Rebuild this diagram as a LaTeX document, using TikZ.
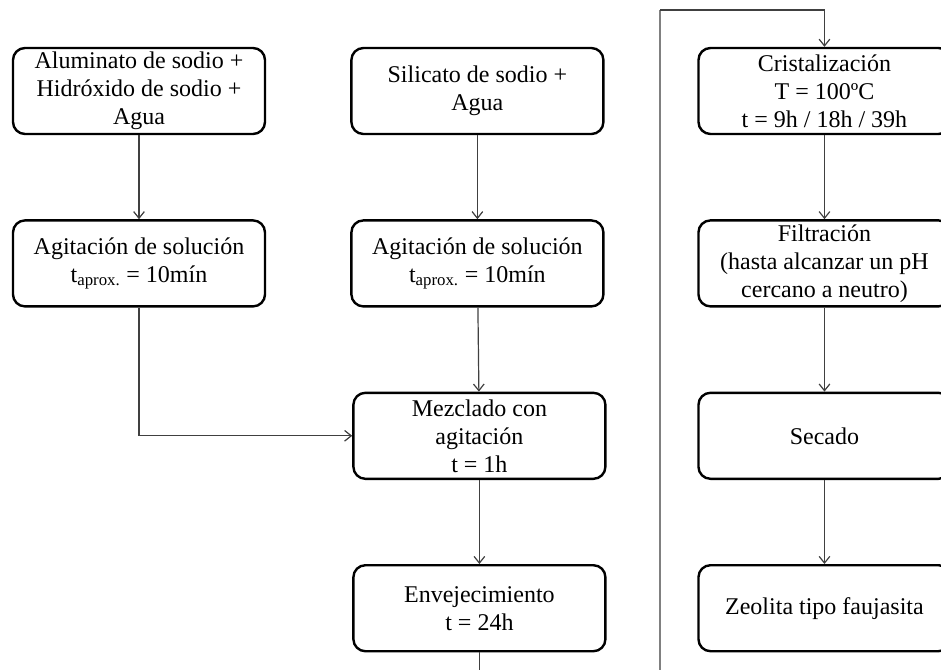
\documentclass[tikz,border=0pt]{standalone}
\usepackage{fontspec}
\setmainfont{Liberation Serif}
\usetikzlibrary{arrows.meta, positioning, calc}

\begin{document}
\begin{tikzpicture}[node distance=63pt, font=\fontsize{18}{21}\selectfont]
    \tikzstyle{stage} = [rectangle, rounded corners=9pt, minimum width=189pt, minimum height=64.5pt, inner sep=2pt, text centered, align=center, draw=black, line width=1.8pt]
    \tikzstyle{link} = [line width=0.9pt, draw=black!75]
    \tikzstyle{arrow} = [link, -{Straight Barb[length=5pt, width=8pt]}]
    \useasboundingbox (-104.25pt,68.25pt) rectangle (601.5pt,-433.5pt);
    \node (alum) [stage] {Aluminato de sodio +\\Hidróxido de sodio +\\Agua};
    \node (agitA) [stage, below=of alum] {Agitación de solución\\t\textsubscript{aprox.} = 10mín};
    \node (silic) [stage, right=of alum] {Silicato de sodio +\\Agua};
    \node (agitB) [stage, below=of silic] {Agitación de solución\\t\textsubscript{aprox.} = 10mín};
    \node (mezcla) [stage, below=of agitB, xshift=1.5pt] {Mezclado con\\agitación\\t = 1h};
    \node (envej) [stage, below=of mezcla] {Envejecimiento\\t = 24h};
    \node (crist) [stage, right=69.5pt of silic] {Cristalización\\T = 100ºC\\t = 9h / 18h / 39h};
    \node (filtr) [stage, below=of crist] {Filtración\\(hasta alcanzar un pH\\cercano a neutro)};
    \node (secado) [stage, below=of filtr] {Secado};
    \node (zeol) [stage, below=of secado] {Zeolita tipo faujasita};
    \coordinate (loopdown) at (390.75pt,-450pt);
    \coordinate (looptop) at (390.75pt,60.75pt);
    \draw [arrow] (alum) -- (agitA);
    \draw [arrow] (silic) -- (agitB);
    \draw [arrow] (agitA.south) |- (mezcla.west);
    \draw [arrow] (agitB) -- (mezcla);
    \draw [arrow] (mezcla) -- (envej);
    % return line to the crystallisation step
    \draw [link] (envej.south) |- (loopdown);
    \draw [link, draw=black!50, line width=1.5pt] (loopdown) -- (looptop);
    \draw [arrow] (looptop) -| (crist.north);
    \draw [arrow] (crist) -- (filtr);
    \draw [arrow] (filtr) -- (secado);
    \draw [arrow] (secado) -- (zeol);
\end{tikzpicture}
\end{document}
